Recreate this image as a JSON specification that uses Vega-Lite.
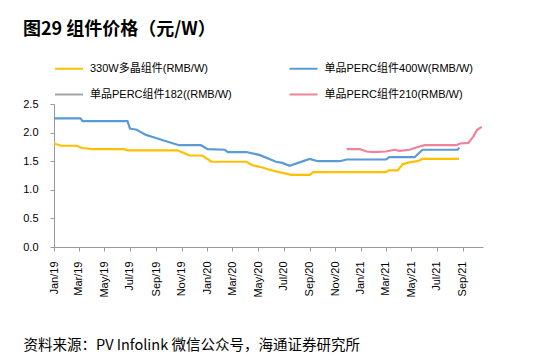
{
  "$schema": "https://vega.github.io/schema/vega-lite/v6.json",
  "width": 429,
  "height": 143,
  "autosize": {"type": "none"},
  "padding": {"left": 54, "top": 104, "right": 53, "bottom": 112},
  "background": "white",
  "title": {"text": "图29 组件价格（元/W）", "anchor": "start", "frame": "group", "dx": -31, "fontSize": 18, "font": "Noto Sans CJK SC", "fontWeight": "bold", "color": "#000", "offset": 23},
  "data": {"values": [
    {"series": "330W多晶组件(RMB/W)", "date": "2019-01-01", "price": 1.81},
    {"series": "330W多晶组件(RMB/W)", "date": "2019-01-18", "price": 1.77},
    {"series": "330W多晶组件(RMB/W)", "date": "2019-02-23", "price": 1.77},
    {"series": "330W多晶组件(RMB/W)", "date": "2019-03-09", "price": 1.73},
    {"series": "330W多晶组件(RMB/W)", "date": "2019-04-02", "price": 1.71},
    {"series": "330W多晶组件(RMB/W)", "date": "2019-06-17", "price": 1.71},
    {"series": "330W多晶组件(RMB/W)", "date": "2019-06-25", "price": 1.69},
    {"series": "330W多晶组件(RMB/W)", "date": "2019-10-22", "price": 1.69},
    {"series": "330W多晶组件(RMB/W)", "date": "2019-11-08", "price": 1.64},
    {"series": "330W多晶组件(RMB/W)", "date": "2019-11-20", "price": 1.60},
    {"series": "330W多晶组件(RMB/W)", "date": "2019-12-20", "price": 1.60},
    {"series": "330W多晶组件(RMB/W)", "date": "2020-01-11", "price": 1.49},
    {"series": "330W多晶组件(RMB/W)", "date": "2020-04-03", "price": 1.49},
    {"series": "330W多晶组件(RMB/W)", "date": "2020-04-18", "price": 1.43},
    {"series": "330W多晶组件(RMB/W)", "date": "2020-05-12", "price": 1.39},
    {"series": "330W多晶组件(RMB/W)", "date": "2020-05-28", "price": 1.35},
    {"series": "330W多晶组件(RMB/W)", "date": "2020-06-21", "price": 1.31},
    {"series": "330W多晶组件(RMB/W)", "date": "2020-07-19", "price": 1.26},
    {"series": "330W多晶组件(RMB/W)", "date": "2020-09-01", "price": 1.26},
    {"series": "330W多晶组件(RMB/W)", "date": "2020-09-10", "price": 1.31},
    {"series": "330W多晶组件(RMB/W)", "date": "2021-03-02", "price": 1.31},
    {"series": "330W多晶组件(RMB/W)", "date": "2021-03-08", "price": 1.34},
    {"series": "330W多晶组件(RMB/W)", "date": "2021-03-30", "price": 1.34},
    {"series": "330W多晶组件(RMB/W)", "date": "2021-04-11", "price": 1.45},
    {"series": "330W多晶组件(RMB/W)", "date": "2021-04-27", "price": 1.48},
    {"series": "330W多晶组件(RMB/W)", "date": "2021-05-16", "price": 1.50},
    {"series": "330W多晶组件(RMB/W)", "date": "2021-05-28", "price": 1.54},
    {"series": "330W多晶组件(RMB/W)", "date": "2021-08-23", "price": 1.54},
    {"series": "单品PERC组件400W(RMB/W)", "date": "2019-01-01", "price": 2.25},
    {"series": "单品PERC组件400W(RMB/W)", "date": "2019-03-05", "price": 2.25},
    {"series": "单品PERC组件400W(RMB/W)", "date": "2019-03-10", "price": 2.20},
    {"series": "单品PERC组件400W(RMB/W)", "date": "2019-06-25", "price": 2.20},
    {"series": "单品PERC组件400W(RMB/W)", "date": "2019-07-01", "price": 2.07},
    {"series": "单品PERC组件400W(RMB/W)", "date": "2019-07-17", "price": 2.05},
    {"series": "单品PERC组件400W(RMB/W)", "date": "2019-08-08", "price": 1.96},
    {"series": "单品PERC组件400W(RMB/W)", "date": "2019-08-30", "price": 1.91},
    {"series": "单品PERC组件400W(RMB/W)", "date": "2019-09-25", "price": 1.85},
    {"series": "单品PERC组件400W(RMB/W)", "date": "2019-10-26", "price": 1.78},
    {"series": "单品PERC组件400W(RMB/W)", "date": "2019-12-17", "price": 1.78},
    {"series": "单品PERC组件400W(RMB/W)", "date": "2020-01-02", "price": 1.71},
    {"series": "单品PERC组件400W(RMB/W)", "date": "2020-02-12", "price": 1.70},
    {"series": "单品PERC组件400W(RMB/W)", "date": "2020-02-19", "price": 1.66},
    {"series": "单品PERC组件400W(RMB/W)", "date": "2020-04-03", "price": 1.66},
    {"series": "单品PERC组件400W(RMB/W)", "date": "2020-05-04", "price": 1.61},
    {"series": "单品PERC组件400W(RMB/W)", "date": "2020-06-13", "price": 1.49},
    {"series": "单品PERC组件400W(RMB/W)", "date": "2020-06-28", "price": 1.47},
    {"series": "单品PERC组件400W(RMB/W)", "date": "2020-07-15", "price": 1.42},
    {"series": "单品PERC组件400W(RMB/W)", "date": "2020-08-08", "price": 1.48},
    {"series": "单品PERC组件400W(RMB/W)", "date": "2020-09-01", "price": 1.54},
    {"series": "单品PERC组件400W(RMB/W)", "date": "2020-09-21", "price": 1.50},
    {"series": "单品PERC组件400W(RMB/W)", "date": "2020-11-12", "price": 1.50},
    {"series": "单品PERC组件400W(RMB/W)", "date": "2020-11-28", "price": 1.53},
    {"series": "单品PERC组件400W(RMB/W)", "date": "2021-03-02", "price": 1.53},
    {"series": "单品PERC组件400W(RMB/W)", "date": "2021-03-10", "price": 1.57},
    {"series": "单品PERC组件400W(RMB/W)", "date": "2021-05-09", "price": 1.57},
    {"series": "单品PERC组件400W(RMB/W)", "date": "2021-05-28", "price": 1.70},
    {"series": "单品PERC组件400W(RMB/W)", "date": "2021-08-20", "price": 1.70},
    {"series": "单品PERC组件400W(RMB/W)", "date": "2021-08-23", "price": 1.74},
    {"series": "单品PERC组件210(RMB/W)", "date": "2020-11-28", "price": 1.71},
    {"series": "单品PERC组件210(RMB/W)", "date": "2020-12-30", "price": 1.71},
    {"series": "单品PERC组件210(RMB/W)", "date": "2021-01-15", "price": 1.67},
    {"series": "单品PERC组件210(RMB/W)", "date": "2021-02-01", "price": 1.66},
    {"series": "单品PERC组件210(RMB/W)", "date": "2021-03-02", "price": 1.67},
    {"series": "单品PERC组件210(RMB/W)", "date": "2021-03-22", "price": 1.70},
    {"series": "单品PERC组件210(RMB/W)", "date": "2021-04-03", "price": 1.68},
    {"series": "单品PERC组件210(RMB/W)", "date": "2021-04-27", "price": 1.70},
    {"series": "单品PERC组件210(RMB/W)", "date": "2021-05-13", "price": 1.74},
    {"series": "单品PERC组件210(RMB/W)", "date": "2021-06-02", "price": 1.78},
    {"series": "单品PERC组件210(RMB/W)", "date": "2021-08-17", "price": 1.78},
    {"series": "单品PERC组件210(RMB/W)", "date": "2021-08-25", "price": 1.81},
    {"series": "单品PERC组件210(RMB/W)", "date": "2021-09-14", "price": 1.82},
    {"series": "单品PERC组件210(RMB/W)", "date": "2021-09-26", "price": 1.93},
    {"series": "单品PERC组件210(RMB/W)", "date": "2021-10-05", "price": 2.05},
    {"series": "单品PERC组件210(RMB/W)", "date": "2021-10-16", "price": 2.10}
  ]},
  "mark": {"type": "line", "strokeWidth": 2.2},
  "encoding": {
    "x": {
      "field": "date", "type": "temporal",
      "scale": {"type": "utc", "domain": [{"year": 2019, "month": 1, "date": 1, "utc": true}, {"year": 2021, "month": 10, "date": 19, "utc": true}]},
      "axis": {
        "values": [
          {"year": 2019, "month": 1, "date": 1, "utc": true},
          {"year": 2019, "month": 3, "date": 1, "utc": true},
          {"year": 2019, "month": 5, "date": 1, "utc": true},
          {"year": 2019, "month": 7, "date": 1, "utc": true},
          {"year": 2019, "month": 9, "date": 1, "utc": true},
          {"year": 2019, "month": 11, "date": 1, "utc": true},
          {"year": 2020, "month": 1, "date": 1, "utc": true},
          {"year": 2020, "month": 3, "date": 1, "utc": true},
          {"year": 2020, "month": 5, "date": 1, "utc": true},
          {"year": 2020, "month": 7, "date": 1, "utc": true},
          {"year": 2020, "month": 9, "date": 1, "utc": true},
          {"year": 2020, "month": 11, "date": 1, "utc": true},
          {"year": 2021, "month": 1, "date": 1, "utc": true},
          {"year": 2021, "month": 3, "date": 1, "utc": true},
          {"year": 2021, "month": 5, "date": 1, "utc": true},
          {"year": 2021, "month": 7, "date": 1, "utc": true},
          {"year": 2021, "month": 9, "date": 1, "utc": true}
        ],
        "labelExpr": "utcFormat(datum.value, '%b/%y')",
        "labelAngle": -90, "labelAlign": "right", "labelBaseline": "middle",
        "labelOverlap": false, "labelFlush": false,
        "tickSize": 4, "labelPadding": 10, "grid": false,
        "domainColor": "#999999", "tickColor": "#999999",
        "labelFontSize": 11, "labelFont": "Liberation Sans", "labelColor": "#000000",
        "title": "资料来源：PV Infolink 微信公众号，海通证券研究所",
        "titleAnchor": "start", "titleAlign": "left", "titleX": -31, "titleY": 98, "titleBaseline": "middle",
        "titleFontSize": 14.5, "titleFontWeight": "normal", "titleFont": "Noto Sans CJK SC", "titleColor": "#000000"
      }
    },
    "y": {
      "field": "price", "type": "quantitative",
      "scale": {"domain": [0, 2.5], "nice": false},
      "axis": {
        "values": [0, 0.5, 1, 1.5, 2, 2.5], "format": ".1f", "grid": false,
        "tickSize": 4, "labelPadding": 12,
        "domainColor": "#999999", "tickColor": "#999999",
        "labelFontSize": 11, "labelFont": "Liberation Sans", "labelColor": "#000000", "title": null
      }
    },
    "color": {
      "field": "series", "type": "nominal",
      "scale": {
        "domain": ["330W多晶组件(RMB/W)", "单品PERC组件182((RMB/W)", "单品PERC组件400W(RMB/W)", "单品PERC组件210(RMB/W)"],
        "range": ["#FFC000", "#A5A5A5", "#5B9BD5", "#F0829A"]
      },
      "legend": {
        "orient": "none", "legendX": 8.5, "legendY": -42, "columns": 2, "columnPadding": 52.5, "rowPadding": 14,
        "title": null, "symbolType": "M-2.55,0H2.55", "symbolSize": 121, "symbolStrokeWidth": 2,
        "labelFontSize": 11, "labelFont": "Liberation Sans, Noto Sans CJK SC", "labelOffset": 14.5, "padding": 0,
        "labelColor": "#000000"
      }
    }
  },
  "config": {"view": {"stroke": null}}
}
